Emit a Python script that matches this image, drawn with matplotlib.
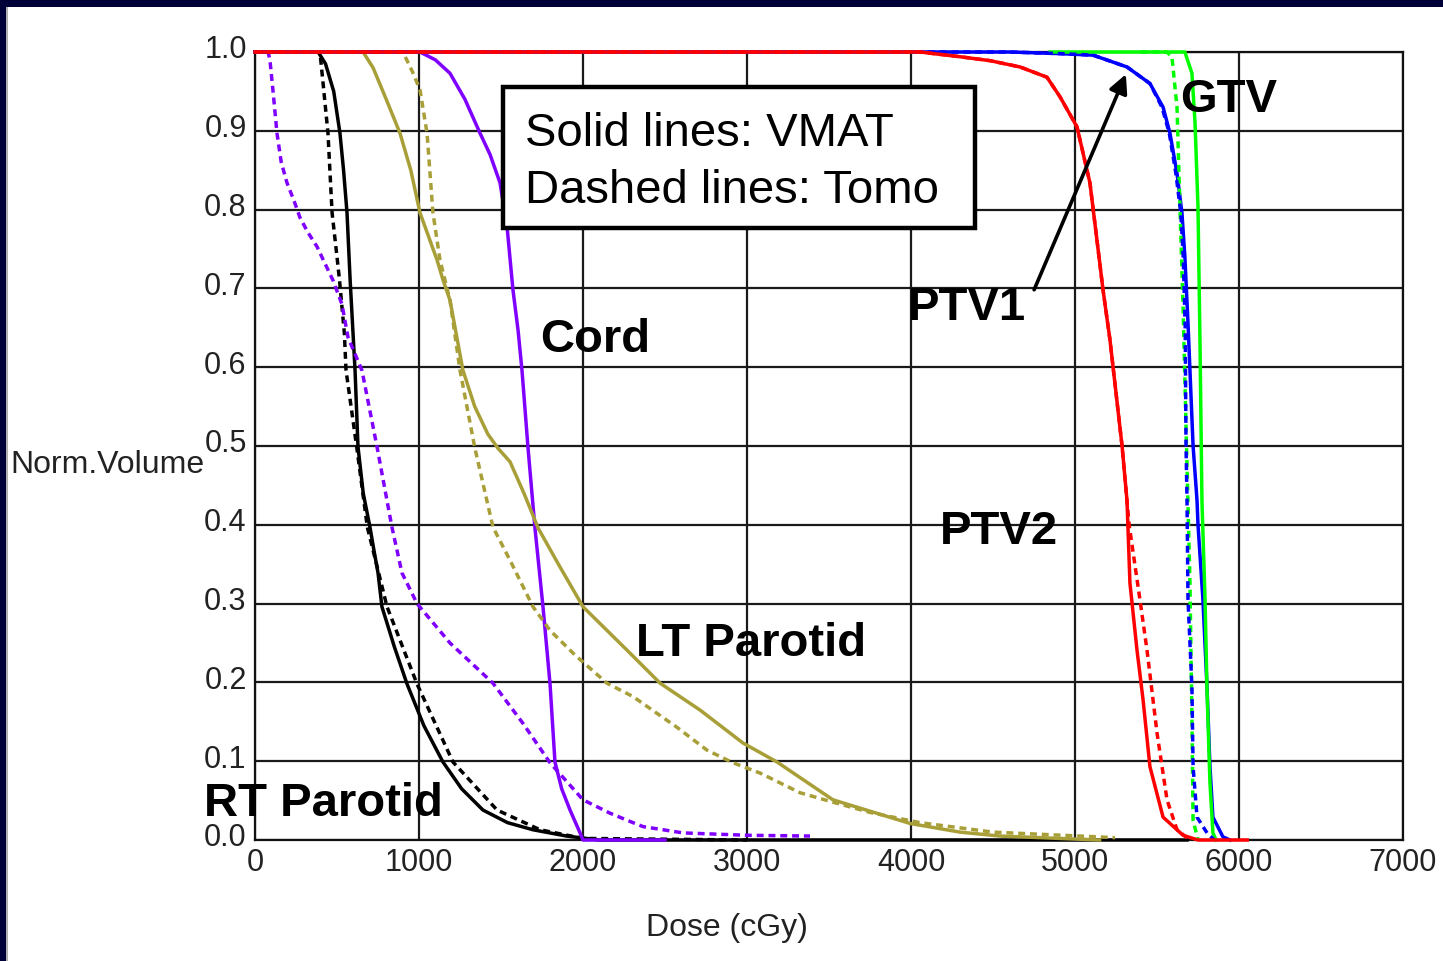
import matplotlib
matplotlib.use("Agg")
import matplotlib.pyplot as plt
import matplotlib.transforms as mtransforms
from matplotlib.patches import Rectangle

# ---- data (dose in cGy, normalized volume) ----
rt_vmat_dose = [0, 385, 430, 480, 518, 540, 561, 580, 610, 628, 660, 701, 725, 750, 774, 850, 927, 1030, 1146, 1260, 1390, 1540, 1695, 1900, 2100, 5683]
rt_vmat_vol = [1.0, 1.0, 0.985, 0.95, 0.897, 0.85, 0.796, 0.711, 0.596, 0.499, 0.44, 0.397, 0.368, 0.339, 0.296, 0.245, 0.198, 0.145, 0.099, 0.065, 0.038, 0.022, 0.013, 0.005, 0.0, 0.0]

rt_tomo_dose = [0, 396, 409, 445, 470, 500, 515, 545, 555, 620, 685, 805, 988, 1207, 1476, 1738, 2000, 3000]
rt_tomo_vol = [1.0, 1.0, 0.973, 0.897, 0.796, 0.74, 0.711, 0.643, 0.596, 0.499, 0.397, 0.296, 0.198, 0.099, 0.038, 0.013, 0.002, 0.0]

cord_vmat_dose = [0, 1006, 1100, 1189, 1280, 1372, 1433, 1494, 1537, 1573, 1604, 1628, 1665, 1707, 1756, 1799, 1829, 1870, 1921, 1982, 2000, 2500]
cord_vmat_vol = [1.0, 1.0, 0.99, 0.973, 0.94, 0.897, 0.87, 0.834, 0.778, 0.698, 0.647, 0.596, 0.497, 0.396, 0.296, 0.198, 0.099, 0.065, 0.038, 0.009, 0.0, 0.0]

cord_tomo_dose = [0, 80, 91, 110, 134, 160, 195, 240, 274, 320, 378, 476, 530, 567, 652, 744, 835, 896, 988, 1189, 1451, 1634, 1799, 2000, 2165, 2305, 2366, 2610, 3000, 3384]
cord_tomo_vol = [1.0, 1.0, 0.99, 0.95, 0.897, 0.86, 0.834, 0.81, 0.79, 0.772, 0.753, 0.71, 0.68, 0.638, 0.596, 0.499, 0.397, 0.339, 0.30, 0.25, 0.199, 0.148, 0.098, 0.051, 0.034, 0.022, 0.017, 0.009, 0.006, 0.005]

lt_vmat_dose = [0, 659, 720, 800, 884, 950, 1006, 1110, 1146, 1189, 1268, 1340, 1420, 1482, 1555, 1640, 1726, 1850, 2000, 2268, 2470, 2713, 2976, 3183, 3524, 3994, 4299, 4543, 5150]
lt_vmat_vol = [1.0, 1.0, 0.98, 0.94, 0.897, 0.85, 0.796, 0.736, 0.711, 0.685, 0.596, 0.55, 0.515, 0.497, 0.48, 0.44, 0.396, 0.35, 0.296, 0.241, 0.199, 0.165, 0.123, 0.099, 0.051, 0.021, 0.010, 0.005, 0.0]

lt_tomo_dose = [0, 902, 960, 1006, 1049, 1085, 1128, 1189, 1250, 1341, 1451, 1555, 1695, 1799, 1950, 2146, 2305, 2573, 2756, 2915, 3079, 3323, 3524, 3750, 4055, 4500, 5244]
lt_tomo_vol = [1.0, 1.0, 0.975, 0.952, 0.897, 0.796, 0.736, 0.685, 0.596, 0.497, 0.397, 0.355, 0.296, 0.266, 0.235, 0.199, 0.182, 0.143, 0.114, 0.098, 0.085, 0.06, 0.048, 0.035, 0.022, 0.01, 0.003]

ptv1_vmat_dose = [0, 4600, 4900, 5110, 5317, 5457, 5537, 5579, 5622, 5652, 5670, 5689, 5720, 5744, 5750, 5780, 5805, 5823, 5841, 5902, 5945]
ptv1_vmat_vol = [1.0, 1.0, 0.998, 0.996, 0.981, 0.96, 0.93, 0.897, 0.846, 0.796, 0.74, 0.656, 0.5, 0.431, 0.4, 0.305, 0.194, 0.093, 0.029, 0.004, 0.0]

ptv1_tomo_dose = [0, 4600, 4900, 5110, 5317, 5457, 5530, 5575, 5615, 5645, 5660, 5672, 5677, 5683, 5689, 5713, 5720, 5744, 5805, 5850]
ptv1_tomo_vol = [1.0, 1.0, 0.998, 0.996, 0.981, 0.96, 0.93, 0.897, 0.846, 0.796, 0.74, 0.65, 0.5, 0.431, 0.305, 0.194, 0.093, 0.029, 0.009, 0.0]

gtv_vmat_dose = [4848, 5670, 5713, 5732, 5750, 5762, 5774, 5793, 5805, 5823, 5841, 5860]
gtv_vmat_vol = [1.0, 1.0, 0.973, 0.91, 0.803, 0.635, 0.431, 0.305, 0.19, 0.072, 0.009, 0.0]

gtv_tomo_dose = [5400, 5560, 5591, 5622, 5640, 5659, 5680, 5701, 5713, 5720, 5750]
gtv_tomo_vol = [1.0, 1.0, 0.994, 0.93, 0.803, 0.676, 0.5, 0.326, 0.156, 0.025, 0.0]

ptv2_vmat_dose = [0, 4055, 4299, 4482, 4665, 4829, 4909, 5012, 5091, 5134, 5171, 5213, 5287, 5317, 5335, 5378, 5415, 5457, 5537, 5659, 5750, 6050]
ptv2_vmat_vol = [1.0, 1.0, 0.994, 0.989, 0.981, 0.968, 0.943, 0.905, 0.834, 0.761, 0.698, 0.635, 0.5, 0.431, 0.326, 0.241, 0.178, 0.093, 0.029, 0.006, 0.0, 0.0]

ptv2_tomo_dose = [0, 4055, 4299, 4482, 4665, 4829, 4909, 5012, 5091, 5134, 5171, 5213, 5287, 5330, 5396, 5439, 5500, 5561, 5622, 5700]
ptv2_tomo_vol = [1.0, 1.0, 0.994, 0.989, 0.981, 0.968, 0.943, 0.905, 0.834, 0.761, 0.698, 0.635, 0.5, 0.4, 0.305, 0.241, 0.136, 0.051, 0.013, 0.0]

x_ticks = [0, 1000, 2000, 3000, 4000, 5000, 6000, 7000]
y_ticks = [0.0, 0.1, 0.2, 0.3, 0.4, 0.5, 0.6, 0.7, 0.8, 0.9, 1.0]

BLACK = "#000000"
PURPLE = "#8000ff"
OLIVE = "#a89f38"
BLUE = "#0000ff"
GREEN = "#00ff00"
RED = "#ff0000"
DASH = (0, (2.0, 1.4))

plt.rcParams["font.family"] = ["Liberation Sans", "DejaVu Sans"]

fig = plt.figure(figsize=(14.43, 9.61), dpi=100)
fig.patch.set_facecolor("white")
ax = fig.add_axes([255 / 1443, 1 - 840 / 961, 1148 / 1443, 788 / 961])

lw = 2.5
curves = [
    (rt_tomo_dose, rt_tomo_vol, BLACK, DASH, 3),
    (rt_vmat_dose, rt_vmat_vol, BLACK, "-", 3),
    (cord_tomo_dose, cord_tomo_vol, PURPLE, DASH, 3),
    (cord_vmat_dose, cord_vmat_vol, PURPLE, "-", 3),
    (lt_tomo_dose, lt_tomo_vol, OLIVE, DASH, 3),
    (lt_vmat_dose, lt_vmat_vol, OLIVE, "-", 3),
    (ptv1_vmat_dose, ptv1_vmat_vol, BLUE, "-", 4),
    (gtv_vmat_dose, gtv_vmat_vol, GREEN, "-", 4.5),
    (gtv_tomo_dose, gtv_tomo_vol, GREEN, DASH, 4.6),
    (ptv1_tomo_dose, ptv1_tomo_vol, BLUE, DASH, 4.7),
    (ptv2_tomo_dose, ptv2_tomo_vol, RED, DASH, 5),
    (ptv2_vmat_dose, ptv2_vmat_vol, RED, "-", 5),
]
for d, v, c, ls, z in curves:
    ax.plot(d, v, color=c, linestyle=ls, linewidth=lw, zorder=z, clip_on=False)

ax.set_xlim(0, 7000)
ax.set_ylim(0, 1.0)
ax.set_xticks(x_ticks)
ax.set_yticks(y_ticks)
ax.set_yticklabels(["%.1f" % t for t in y_ticks])
ax.tick_params(length=0, labelsize=22, labelcolor="#222222", pad=6)
ax.grid(True, color="#1a1a1a", linewidth=1.6)
ax.set_axisbelow(True)
for s in ax.spines.values():
    s.set_color("#111111")
    s.set_linewidth(1.6)

# y tick labels sit a little above their grid lines
offset = mtransforms.ScaledTranslation(0, 5 / 100, fig.dpi_scale_trans)
for lab in ax.get_yticklabels():
    lab.set_transform(lab.get_transform() + offset)

ax.set_ylabel("Norm.Volume", rotation=0, fontsize=23, color="#222222", ha="left", va="center")
ax.yaxis.set_label_coords(-0.2134, 0.476)
ax.set_xlabel("Dose (cGy)", fontsize=23, color="#222222", va="center")
ax.xaxis.set_label_coords(0.411, -0.112)

# structure labels
lab_kw = dict(fontsize=34, fontweight="bold", color="black", ha="left", va="baseline", zorder=10, clip_on=False)
ax.text(5640, 0.924, "GTV", **lab_kw)
ax.text(3982, 0.660, "PTV1", **lab_kw)
ax.text(1738, 0.619, "Cord", **lab_kw)
ax.text(4177, 0.376, "PTV2", **lab_kw)
ax.text(2323, 0.234, "LT Parotid", **lab_kw)
ax.text(-311, 0.030, "RT Parotid", **lab_kw)

ax.annotate("", xy=(5317, 0.975), xytext=(4744, 0.695),
            arrowprops=dict(arrowstyle="-|>", color="black", lw=2.6, mutation_scale=28), zorder=10)

# legend box
ax.add_patch(Rectangle((0.216, 0.7766), 0.411, 0.179, transform=ax.transAxes,
                       facecolor="white", edgecolor="black", linewidth=3.2, zorder=9))
ax.text(0.2352, 0.8807, "Solid lines: VMAT", transform=ax.transAxes, fontsize=34,
        ha="left", va="baseline", zorder=10)
ax.text(0.2352, 0.8084, "Dashed lines: Tomo", transform=ax.transAxes, fontsize=34,
        ha="left", va="baseline", zorder=10)

# navy slide frame at top and left
fig.patches.append(Rectangle((0, 1 - 7 / 961), 1, 7 / 961, transform=fig.transFigure,
                             facecolor="#000038", edgecolor="none"))
fig.patches.append(Rectangle((0, 0), 6 / 1443, 1, transform=fig.transFigure,
                             facecolor="#000038", edgecolor="none"))
fig.patches.append(Rectangle((6 / 1443, 0), 2 / 1443, 1 - 7 / 961, transform=fig.transFigure,
                             facecolor="#b0b0b0", edgecolor="none"))

fig.savefig("out.png", dpi=100)
